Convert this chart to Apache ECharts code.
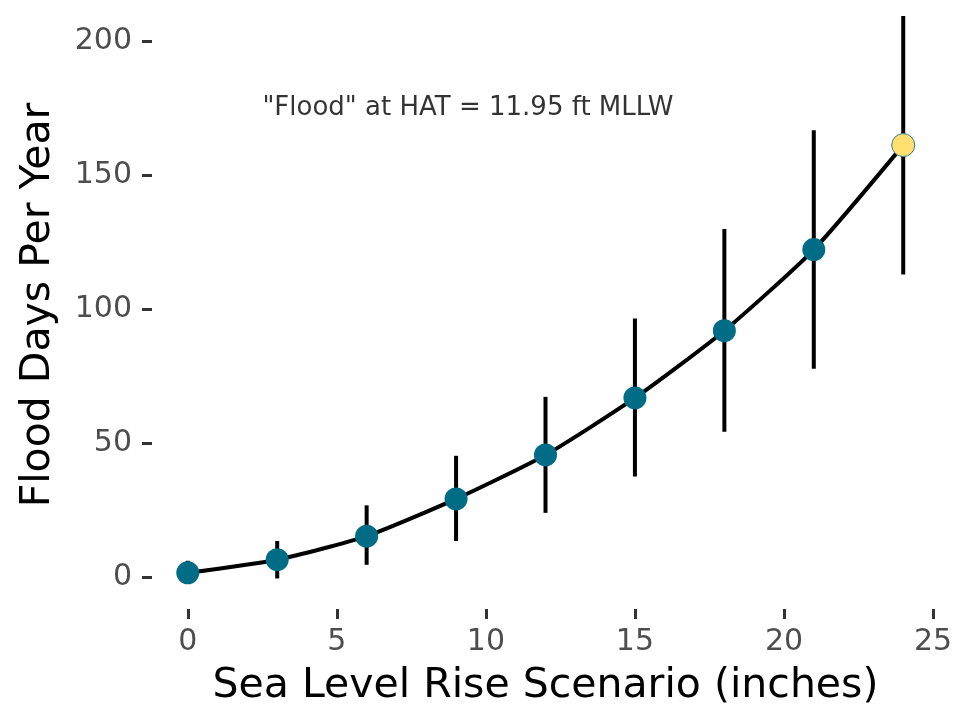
<!DOCTYPE html>
<html>
<head>
<meta charset="utf-8">
<script src="https://cdn.jsdelivr.net/npm/echarts@6/dist/echarts.min.js"></script>
<style>
html,body{margin:0;padding:0;background:#fff;}
#chart{width:965px;height:712px;}
</style>
</head>
<body>
<div id="chart"></div>
<script>
// Data
var slrInches = [0, 3, 6, 9, 12, 15, 18, 21, 24];
var floodDays = [1.5, 6.4, 15.2, 29.1, 45.5, 66.8, 91.9, 122.2, 161.2];
var lowerBound = [-2.5, -0.6, 4.5, 13.4, 23.9, 37.5, 54.2, 77.7, 112.9];
var upperBound = [6.0, 13.4, 26.7, 45.2, 67.2, 96.5, 129.9, 166.7, 209.4];
var highlightIndex = 8;
var xTicks = [0, 5, 10, 15, 20, 25];
var yTicks = [0, 50, 100, 150, 200];
var annotationText = '"Flood" at HAT = 11.95 ft MLLW';
var annotationPos = [9.4, 175];

var FONT = 'DejaVu Sans';
var chart = echarts.init(document.getElementById('chart'), null, {renderer: 'canvas'});

var pointData = slrInches.map(function (x, i) {
  var d = {value: [x, floodDays[i]]};
  if (i === highlightIndex) {
    d.itemStyle = {color: '#FFDF6F', borderColor: '#2f7f8f', borderWidth: 1, opacity: 1};
  }
  return d;
});
var barData = slrInches.map(function (x, i) { return [x, lowerBound[i], upperBound[i]]; });

chart.setOption({
  animation: false,
  backgroundColor: '#ffffff',
  grid: {left: 152, right: 26, top: 1, bottom: 100, containLabel: false},
  xAxis: {
    type: 'value', min: -1.2, max: 25.2,
    name: 'Sea Level Rise Scenario (inches)',
    nameLocation: 'middle', nameGap: 57,
    nameTextStyle: {fontFamily: FONT, fontSize: 41, color: '#000'},
    axisLine: {show: false, onZero: false},
    splitLine: {show: false},
    axisTick: {show: true, length: 10, customValues: xTicks, lineStyle: {color: '#333', width: 3}},
    axisLabel: {customValues: xTicks, margin: 18, fontFamily: FONT, fontSize: 30, color: '#4d4d4d'}
  },
  yAxis: {
    type: 'value', min: -12, max: 215,
    name: 'Flood Days Per Year',
    nameLocation: 'middle', nameGap: 93, nameRotate: 90,
    nameTextStyle: {fontFamily: FONT, fontSize: 41, color: '#000'},
    axisLine: {show: false, onZero: false},
    splitLine: {show: false},
    axisTick: {show: true, length: 10, customValues: yTicks, lineStyle: {color: '#333', width: 3}},
    axisLabel: {customValues: yTicks, margin: 20, fontFamily: FONT, fontSize: 30, color: '#4d4d4d'}
  },
  series: [
    {
      type: 'custom',
      z: 1,
      data: barData,
      renderItem: function (params, api) {
        var top = api.coord([api.value(0), api.value(2)]);
        var bot = api.coord([api.value(0), api.value(1)]);
        return {
          type: 'line',
          shape: {x1: top[0], y1: top[1], x2: bot[0], y2: bot[1]},
          style: {stroke: '#000', lineWidth: 4}
        };
      }
    },
    {
      type: 'line',
      z: 2,
      data: slrInches.map(function (x, i) { return [x, floodDays[i]]; }),
      smooth: 0.2,
      showSymbol: false,
      lineStyle: {color: '#000', width: 4}
    },
    {
      type: 'scatter',
      z: 3,
      data: pointData,
      symbolSize: 23,
      itemStyle: {color: '#006C85', opacity: 1}
    },
    {
      type: 'scatter',
      z: 4,
      data: [annotationPos],
      symbolSize: 0,
      silent: true,
      label: {show: true, position: 'inside', formatter: annotationText,
        fontFamily: FONT, fontSize: 26, color: '#000'}
    }
  ]
});
</script>
</body>
</html>
